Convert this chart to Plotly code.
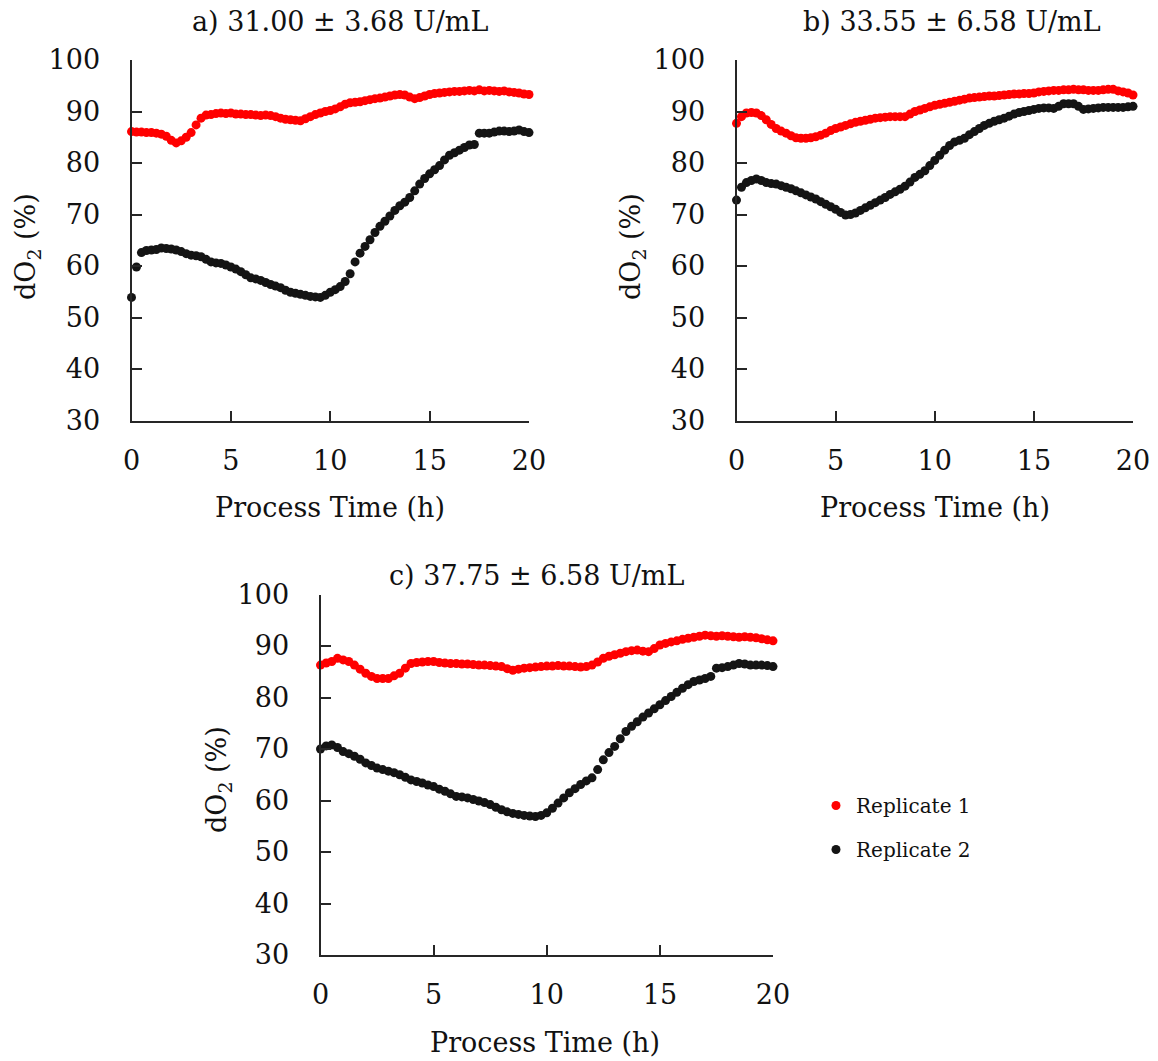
import plotly.graph_objects as go

# ---------------- data ----------------
time_h = [
    0.0, 0.25, 0.5, 0.75, 1.0, 1.25, 1.5, 1.75, 2.0, 2.25, 2.5, 2.75,
    3.0, 3.25, 3.5, 3.75, 4.0, 4.25, 4.5, 4.75, 5.0, 5.25, 5.5, 5.75,
    6.0, 6.25, 6.5, 6.75, 7.0, 7.25, 7.5, 7.75, 8.0, 8.25, 8.5, 8.75,
    9.0, 9.25, 9.5, 9.75, 10.0, 10.25, 10.5, 10.75, 11.0, 11.25, 11.5, 11.75,
    12.0, 12.25, 12.5, 12.75, 13.0, 13.25, 13.5, 13.75, 14.0, 14.25, 14.5, 14.75,
    15.0, 15.25, 15.5, 15.75, 16.0, 16.25, 16.5, 16.75, 17.0, 17.25, 17.5, 17.75,
    18.0, 18.25, 18.5, 18.75, 19.0, 19.25, 19.5, 19.75, 20.0,
]

a_rep1 = [
    86.1, 86.0, 86.0, 85.9, 85.9, 85.8, 85.6, 85.2, 84.4, 83.9, 84.3, 85.0,
    85.9, 87.4, 88.7, 89.3, 89.4, 89.6, 89.7, 89.6, 89.7, 89.5, 89.5, 89.4,
    89.4, 89.3, 89.2, 89.3, 89.2, 89.0, 88.7, 88.5, 88.4, 88.3, 88.2, 88.6,
    89.0, 89.4, 89.7, 90.0, 90.2, 90.5, 90.9, 91.4, 91.7, 91.8, 91.9, 92.1,
    92.3, 92.5, 92.6, 92.8, 93.0, 93.2, 93.3, 93.2, 92.8, 92.5, 92.7, 93.0,
    93.3, 93.5, 93.6, 93.7, 93.8, 93.9, 93.9, 94.0, 94.1, 94.0, 94.2, 94.0,
    94.1, 94.0, 93.9, 94.0, 93.8, 93.7, 93.6, 93.4, 93.3,
]
a_rep2 = [
    53.9, 59.8, 62.6, 63.0, 63.1, 63.2, 63.5, 63.4, 63.3, 63.1, 62.8, 62.4,
    62.1, 62.0, 61.8, 61.3, 60.8, 60.6, 60.5, 60.2, 59.8, 59.4, 58.9, 58.3,
    57.7, 57.5, 57.2, 56.8, 56.4, 56.1, 55.8, 55.3, 54.9, 54.7, 54.5, 54.3,
    54.1, 54.0, 53.9, 54.3, 54.9, 55.4, 56.0, 57.0, 58.5, 60.8, 62.5, 63.8,
    65.1, 66.5, 67.7, 68.7, 69.7, 70.8, 71.7, 72.4, 73.3, 74.6, 75.9, 77.0,
    77.9, 78.7, 79.5, 80.6, 81.5, 82.0, 82.5, 83.0, 83.5, 83.6, 85.8, 85.8,
    85.8, 86.0, 86.2, 86.2, 86.1, 86.2, 86.4, 86.1, 85.9,
]

b_rep1 = [
    87.7, 89.0, 89.7, 89.8, 89.7, 89.2, 88.4, 87.5, 86.7, 86.2, 85.8, 85.3,
    84.9, 84.8, 84.8, 84.9, 85.1, 85.4, 85.8, 86.3, 86.7, 87.0, 87.3, 87.6,
    87.9, 88.1, 88.3, 88.5, 88.7, 88.8, 88.9, 89.0, 89.0, 89.0, 89.0, 89.5,
    90.0, 90.3, 90.6, 90.9, 91.2, 91.4, 91.6, 91.8, 92.0, 92.2, 92.4, 92.6,
    92.7, 92.8, 92.9, 93.0, 93.0, 93.1, 93.2, 93.3, 93.4, 93.4, 93.5, 93.5,
    93.6, 93.8, 93.9, 94.0, 94.1, 94.1, 94.2, 94.2, 94.3, 94.2, 94.2, 94.1,
    94.1, 94.1, 94.2, 94.3, 94.3, 94.0, 93.8, 93.6, 93.2,
]
b_rep2 = [
    72.8, 75.3, 76.2, 76.6, 76.9, 76.6, 76.2, 76.0, 75.9, 75.6, 75.3, 75.0,
    74.6, 74.2, 73.8, 73.4, 73.0, 72.5, 72.0, 71.5, 71.0, 70.4, 69.9, 70.0,
    70.3, 70.8, 71.3, 71.8, 72.3, 72.8, 73.3, 73.9, 74.4, 74.9, 75.5, 76.3,
    77.2, 77.8, 78.5, 79.5, 80.5, 81.5, 82.5, 83.4, 84.1, 84.4, 84.8, 85.5,
    86.1, 86.7, 87.3, 87.7, 88.1, 88.4, 88.7, 89.1, 89.5, 89.8, 90.0, 90.2,
    90.4, 90.6, 90.7, 90.7, 90.6, 91.0, 91.5, 91.5, 91.5, 91.0, 90.4, 90.5,
    90.6, 90.7, 90.8, 90.8, 90.8, 90.8, 90.8, 90.9, 91.0,
]

c_rep1 = [
    86.3, 86.7, 87.0, 87.6, 87.3, 87.0, 86.3, 85.5, 84.7, 84.1, 83.7, 83.7,
    83.7, 84.2, 84.7, 85.7, 86.6, 86.8, 86.9, 87.0, 87.0, 86.8, 86.7, 86.6,
    86.6, 86.5, 86.5, 86.4, 86.3, 86.3, 86.2, 86.1, 86.0, 85.6, 85.3, 85.5,
    85.7, 85.8, 85.9, 86.0, 86.1, 86.1, 86.2, 86.1, 86.1, 86.0, 85.9, 86.0,
    86.3, 86.9, 87.6, 88.0, 88.3, 88.6, 88.9, 89.1, 89.2, 89.0, 88.9, 89.5,
    90.2, 90.5, 90.8, 91.0, 91.3, 91.5, 91.7, 91.9, 92.1, 92.0, 91.9, 92.0,
    91.9, 91.8, 91.7, 91.8, 91.7, 91.6, 91.4, 91.2, 91.0,
]
c_rep2 = [
    70.0, 70.6, 70.8, 70.3, 69.5, 69.1, 68.6, 68.0, 67.3, 66.8, 66.3, 66.0,
    65.7, 65.4, 65.0, 64.5, 64.0, 63.7, 63.4, 63.0, 62.7, 62.2, 61.8, 61.3,
    60.8, 60.7, 60.5, 60.2, 59.9, 59.6, 59.2, 58.7, 58.2, 57.8, 57.5, 57.3,
    57.1, 57.0, 56.9, 57.1, 57.6, 58.5, 59.5, 60.5, 61.5, 62.3, 63.1, 63.8,
    64.4, 66.0, 67.9, 69.3, 70.5, 72.0, 73.4, 74.4, 75.3, 76.2, 77.0, 77.8,
    78.6, 79.4, 80.2, 81.0, 81.8, 82.5, 83.1, 83.4, 83.7, 84.1, 85.7, 85.8,
    86.0, 86.3, 86.6, 86.5, 86.3, 86.3, 86.3, 86.2, 86.0,
]

panel_titles = ["a) 31.00 \u00b1 3.68 U/mL", "b) 33.55 \u00b1 6.58 U/mL", "c) 37.75 \u00b1 6.58 U/mL"]
series_names = ["Replicate 1", "Replicate 2"]
x_ticks = [0, 5, 10, 15, 20]
y_ticks = [30, 40, 50, 60, 70, 80, 90, 100]
x_title = "Process Time (h)"
y_title = "dO<sub>2</sub> (%)"

# ---------------- layout helpers ----------------
W, H = 1158, 1061
FONT = "DejaVu Serif"
FS = 27
TXT = "#111111"
AX = "#262626"
RED = "#ff0000"
BLK = "#141414"


def fx(px):
    return px / W


def fy(py):
    return 1 - py / H


panels = [
    dict(rep1=a_rep1, rep2=a_rep2, xd=(131.5, 529), yd=(60, 420.5), title=(340, 22),
         xt=(330, 507), yt=(27, 247)),
    dict(rep1=b_rep1, rep2=b_rep2, xd=(736.5, 1133), yd=(60, 420.5), title=(952, 22),
         xt=(935, 507), yt=(632, 247)),
    dict(rep1=c_rep1, rep2=c_rep2, xd=(320.5, 773), yd=(594.5, 955), title=(536, 575),
         xt=(545, 1042), yt=(218, 780)),
]

fig = go.Figure()
annotations = []
layout_axes = {}

for i, p in enumerate(panels):
    n = "" if i == 0 else str(i + 1)
    xa, ya = "x" + n, "y" + n
    for vals, color, name in [(p["rep1"], RED, series_names[0]),
                              (p["rep2"], BLK, series_names[1])]:
        fig.add_trace(go.Scatter(
            x=time_h, y=vals, mode="markers", name=name,
            marker=dict(color=color, size=9, line=dict(width=0)),
            xaxis=xa, yaxis=ya, cliponaxis=False,
            showlegend=(i == 2), legendgroup=name,
        ))
    common = dict(showline=True, linecolor=AX, linewidth=2, ticks="inside",
                  ticklen=10, tickwidth=2, tickcolor=AX, showgrid=False,
                  zeroline=False, automargin=False,
                  tickfont=dict(family=FONT, size=FS, color=TXT))
    layout_axes["xaxis" + n] = dict(common, domain=[fx(p["xd"][0]), fx(p["xd"][1])],
                                    anchor=ya, range=[0, 20], tickvals=x_ticks,
                                    ticklabelstandoff=15)
    layout_axes["yaxis" + n] = dict(common, domain=[fy(p["yd"][1]), fy(p["yd"][0])],
                                    anchor=xa, range=[30, 100], tickvals=y_ticks,
                                    ticklabelstandoff=24)
    annotations.append(dict(text=panel_titles[i], x=fx(p["title"][0]), y=fy(p["title"][1]),
                            xref="paper", yref="paper", showarrow=False,
                            xanchor="center", yanchor="middle",
                            font=dict(family=FONT, size=FS, color=TXT)))
    annotations.append(dict(text=x_title, x=fx(p["xt"][0]), y=fy(p["xt"][1]),
                            xref="paper", yref="paper", showarrow=False,
                            xanchor="center", yanchor="middle",
                            font=dict(family=FONT, size=FS, color=TXT)))
    annotations.append(dict(text=y_title, x=fx(p["yt"][0]), y=fy(p["yt"][1]),
                            xref="paper", yref="paper", showarrow=False, textangle=-90,
                            xanchor="center", yanchor="middle",
                            font=dict(family=FONT, size=FS, color=TXT)))

fig.update_layout(
    width=W, height=H,
    margin=dict(l=0, r=0, t=0, b=0, autoexpand=False),
    paper_bgcolor="white", plot_bgcolor="white",
    annotations=annotations,
    legend=dict(x=fx(816), y=fy(786), xanchor="left", yanchor="top",
                font=dict(family=FONT, size=20, color=TXT),
                bgcolor="rgba(0,0,0,0)", tracegroupgap=15, itemwidth=30),
    **layout_axes,
)

fig.write_html("out.html")
